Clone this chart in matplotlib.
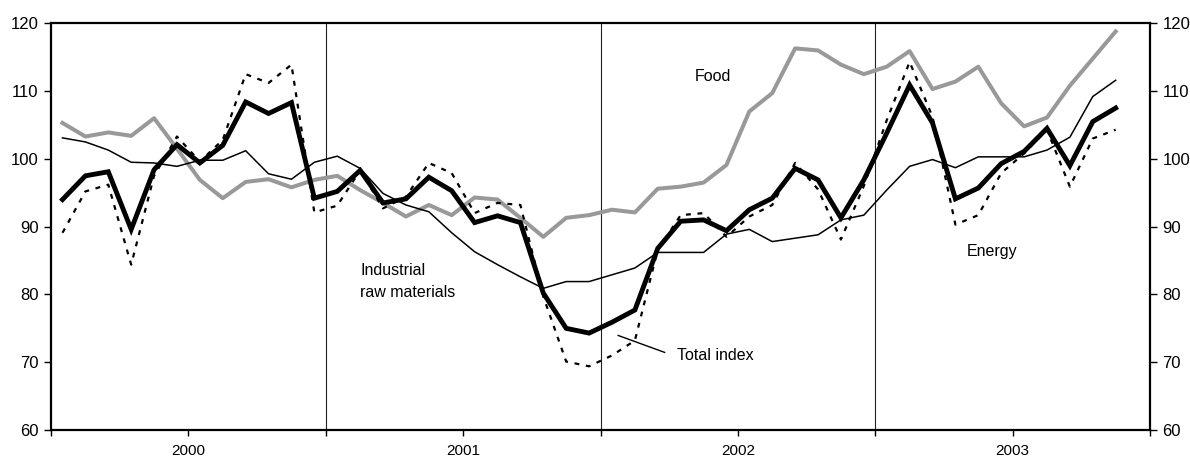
import numpy as np
import matplotlib
matplotlib.use("Agg")
import matplotlib.pyplot as plt

plt.rcParams["font.family"] = ["Liberation Sans", "DejaVu Sans"]

# monthly index values, Jan 2000 - Nov 2003
years = ["2000", "2001", "2002", "2003"]

total = [94.0, 97.5, 98.1, 89.6, 98.4, 102.1, 99.4, 102.0, 108.4, 106.7, 108.3, 94.2,
         95.2, 98.3, 93.5, 94.1, 97.3, 95.3, 90.6, 91.6, 90.6, 80.2, 75.0, 74.3,
         75.9, 77.7, 86.8, 90.8, 91.0, 89.4, 92.5, 94.2, 98.6, 96.9, 91.3, 96.9,
         103.8, 110.9, 105.3, 94.1, 95.7, 99.3, 101.1, 104.5, 99.0, 105.5, 107.5]

food = [105.3, 103.3, 103.9, 103.4, 106.0, 101.5, 96.9, 94.2, 96.6, 97.0, 95.8, 96.9,
        97.5, 95.4, 93.5, 91.5, 93.2, 91.7, 94.3, 94.0, 91.3, 88.5, 91.3, 91.7,
        92.5, 92.1, 95.6, 95.9, 96.5, 99.1, 107.0, 109.7, 116.3, 116.0, 113.9, 112.5,
        113.6, 115.9, 110.3, 111.4, 113.6, 108.2, 104.8, 106.1, 110.8, 114.8, 118.8]

industrial = [103.1, 102.5, 101.3, 99.5, 99.4, 98.9, 99.8, 99.8, 101.2, 97.8, 97.0, 99.5,
              100.4, 98.6, 94.9, 93.2, 92.2, 89.1, 86.3, 84.4, 82.6, 80.9, 81.9, 81.9,
              82.9, 83.9, 86.2, 86.2, 86.2, 88.9, 89.6, 87.8, 88.3, 88.8, 91.0, 91.7,
              95.4, 98.9, 99.9, 98.7, 100.3, 100.3, 100.3, 101.3, 103.2, 109.2, 111.6]

energy = [89.1, 95.2, 96.2, 84.4, 97.5, 103.3, 99.6, 102.8, 112.5, 111.2, 113.9, 92.1,
          93.1, 98.3, 92.7, 94.4, 99.4, 97.9, 92.0, 93.5, 93.2, 79.7, 70.1, 69.4,
          71.0, 73.2, 86.6, 91.7, 92.0, 88.5, 91.5, 93.2, 99.4, 95.5, 88.1, 96.0,
          105.7, 114.3, 106.2, 90.3, 91.7, 97.9, 100.8, 104.3, 95.9, 103.0, 104.3]

x = np.arange(len(total)) + 0.5

fig = plt.figure(figsize=(11.9, 4.58), dpi=100)
ax = fig.add_axes([0.0429, 0.0611, 0.9235, 0.888])

for b in [12, 24, 36]:
    ax.axvline(b, color="#222222", lw=0.8, zorder=1)

ax.plot(x, food, color="#999999", lw=2.9, zorder=2)
ax.plot(x, industrial, color="black", lw=1.1, zorder=3)
ax.plot(x, energy, color="black", lw=1.6, dashes=(2.2, 3), zorder=4)
ax.plot(x, total, color="black", lw=3.5, zorder=5, solid_joinstyle="miter")

ax.set_xlim(0, 48)
ax.set_ylim(60, 120)
ax.set_yticks(range(60, 121, 10))
ax.set_xticks(range(0, 49, 6))
ax.set_xticklabels(["", years[0], "", years[1], "", years[2], "", years[3], ""])
ax.tick_params(axis="y", which="both", left=True, right=True, labelleft=True,
               labelright=True, direction="out", length=5, width=1, labelsize=12, pad=4)
ax.tick_params(axis="x", direction="out", length=4, width=1, labelsize=11, pad=6)
for s in ax.spines.values():
    s.set_linewidth(1.6)

fs = 11.5
ax.text(28.1, 111.5, "Food", fontsize=fs)
ax.text(13.5, 82.9, "Industrial", fontsize=fs)
ax.text(13.5, 79.65, "raw materials", fontsize=fs)
ax.text(27.35, 70.4, "Total index", fontsize=fs)
ax.plot([24.77, 26.8], [73.95, 71.45], color="black", lw=1)
ax.text(40.0, 85.7, "Energy", fontsize=fs)

fig.savefig("out.png", dpi=100)
